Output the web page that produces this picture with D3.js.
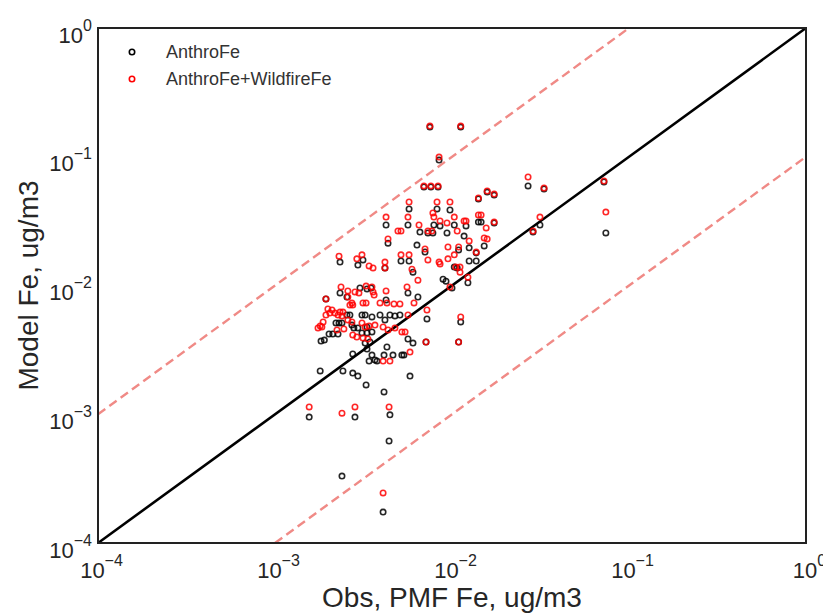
<!DOCTYPE html>
<html>
<head>
<meta charset="utf-8">
<script src="https://cdn.jsdelivr.net/npm/d3@7"></script>
<style>
  body { margin: 0; background: #fff; }
  text { font-family: "Liberation Sans", Arial, sans-serif; }
</style>
</head>
<body>
<script>
// AnthroFe (black) - obs PMF Fe vs model Fe, ug/m3
var anthroObs = [
  0.0075, 0.0112, 0.00845, 0.00694, 0.0076, 0.00834, 0.0269, 0.0331, 0.0158, 0.0173,
  0.0722, 0.0141, 0.00572, 0.00823, 0.00974, 0.00424, 0.00564, 0.0079, 0.00856, 0.0103,
  0.012, 0.0141, 0.0146, 0.0173, 0.0314, 0.0287, 0.074, 0.00937, 0.0078, 0.00659,
  0.00731, 0.0117, 0.0152, 0.00435, 0.00634, 0.00704, 0.0109, 0.0125, 0.0137, 0.0125,
  0.0137, 0.0103, 0.0123, 0.0089, 0.00925, 0.01, 0.0112, 0.00722, 0.00713, 0.0109,
  0.00233, 0.00314, 0.00294, 0.00418, 0.00515, 0.00572, 0.00602, 0.00233, 0.00255, 0.00302,
  0.00331, 0.00349, 0.00194, 0.00424, 0.00564, 0.00642, 0.0107, 0.00221, 0.0023, 0.00239,
  0.00182, 0.0019, 0.00202, 0.00212, 0.00227, 0.00255, 0.00265, 0.00272, 0.00279, 0.0031,
  0.00323, 0.00353, 0.00392, 0.00418, 0.00446, 0.00476, 0.00508, 0.0031, 0.00331, 0.00353,
  0.00323, 0.00344, 0.00564, 0.00602, 0.00275, 0.00331, 0.00429, 0.00353, 0.00367, 0.0034,
  0.00377, 0.00413, 0.00464, 0.00521, 0.00535, 0.0018, 0.00242, 0.00275, 0.00294, 0.00327,
  0.00413, 0.00579, 0.00156, 0.00283, 0.00446, 0.00441, 0.00239, 0.00408, 0.00294, 0.00331
];
var anthroModel = [
  0.17, 0.17, 0.0943, 0.0582, 0.0582, 0.0582, 0.0593, 0.0562, 0.0532, 0.0504,
  0.0637, 0.047, 0.0393, 0.0393, 0.0386, 0.0295, 0.0295, 0.0295, 0.029, 0.0295,
  0.029, 0.0311, 0.0311, 0.0306, 0.0295, 0.026, 0.0256, 0.0256, 0.0256, 0.026,
  0.0256, 0.0242, 0.0203, 0.0213, 0.0206, 0.0182, 0.0189, 0.0196, 0.0179, 0.0155,
  0.0155, 0.0139, 0.0105, 0.0112, 0.0108, 0.00957, 0.00521, 0.0055, 0.00364, 0.00364,
  0.0152, 0.0158, 0.0144, 0.0137, 0.0155, 0.0155, 0.0127, 0.00875, 0.00814, 0.00957,
  0.0094, 0.00957, 0.00786, 0.00772, 0.00875, 0.00814, 0.0137, 0.00512, 0.00512, 0.00512,
  0.0037, 0.00377, 0.0042, 0.0042, 0.0042, 0.0059, 0.0059, 0.00493, 0.00468, 0.0059,
  0.0059, 0.0057, 0.0059, 0.0054, 0.0059, 0.0058, 0.0059, 0.00428, 0.00428, 0.00436,
  0.00357, 0.00364, 0.00384, 0.00357, 0.00294, 0.00321, 0.00333, 0.00288, 0.00264, 0.00259,
  0.00259, 0.00288, 0.00288, 0.00288, 0.00288, 0.00217, 0.00217, 0.00209, 0.00198, 0.00169,
  0.00149, 0.00198, 0.00095, 0.00095, 0.00099, 0.00062, 0.000331, 0.000174, 0.00468, 0.00476
];

// AnthroFe+WildfireFe (red)
var totalObs = [
  0.0075, 0.0112, 0.00845, 0.00694, 0.0076, 0.00834, 0.0269, 0.0331, 0.0158, 0.0173,
  0.0722, 0.0141, 0.00572, 0.00823, 0.00974, 0.0078, 0.0079, 0.00424, 0.00564, 0.00856,
  0.0103, 0.0117, 0.012, 0.0141, 0.0146, 0.0173, 0.0314, 0.0287, 0.074, 0.00937,
  0.00651, 0.00495, 0.00515, 0.00731, 0.0077, 0.0107, 0.0156, 0.0158, 0.00435, 0.00704,
  0.00949, 0.0109, 0.0125, 0.0152, 0.0137, 0.0023, 0.0029, 0.0031, 0.0034, 0.00358,
  0.00418, 0.00418, 0.00515, 0.00572, 0.00594, 0.00642, 0.00731, 0.00845, 0.00856, 0.00949,
  0.0103, 0.0105, 0.0111, 0.0111, 0.0123, 0.00974, 0.00722, 0.0112, 0.00713, 0.0109,
  0.00236, 0.00258, 0.00283, 0.00298, 0.00327, 0.00353, 0.00358, 0.00363, 0.00424, 0.00557,
  0.00194, 0.00314, 0.00327, 0.00392, 0.00429, 0.0047, 0.00508, 0.0061, 0.00265, 0.00275,
  0.0018, 0.00184, 0.00187, 0.00194, 0.00199, 0.0021, 0.00218, 0.00227, 0.00233, 0.00239,
  0.00245, 0.0031, 0.00323, 0.0034, 0.00367, 0.00408, 0.00435, 0.00476, 0.00564, 0.00521,
  0.00543, 0.00275, 0.0029, 0.00314, 0.00335, 0.00408, 0.00446, 0.00579, 0.00156, 0.00239,
  0.00283, 0.00441, 0.00408, 0.00175, 0.00258, 0.00272, 0.00242, 0.00258, 0.00272, 0.00224,
  0.00204
];
var totalModel = [
  0.173, 0.173, 0.0995, 0.0593, 0.0593, 0.0593, 0.0696, 0.0572, 0.0542, 0.0513,
  0.0648, 0.0478, 0.0445, 0.0445, 0.0445, 0.0366, 0.034, 0.034, 0.034, 0.0317,
  0.034, 0.0317, 0.0317, 0.0353, 0.0353, 0.0311, 0.034, 0.0265, 0.0372, 0.0306,
  0.0295, 0.0265, 0.0265, 0.0265, 0.0265, 0.0265, 0.028, 0.023, 0.023, 0.0192,
  0.0199, 0.0199, 0.0222, 0.0234, 0.0182, 0.0169, 0.0161, 0.0173, 0.0142, 0.0137,
  0.0152, 0.0137, 0.0173, 0.0173, 0.0134, 0.011, 0.0158, 0.0152, 0.0147, 0.0161,
  0.0173, 0.0139, 0.0139, 0.0127, 0.0116, 0.00974, 0.00645, 0.0057, 0.00364, 0.00364,
  0.00974, 0.00907, 0.00891, 0.00875, 0.0099, 0.00974, 0.00891, 0.00844, 0.00907, 0.00974,
  0.00786, 0.00732, 0.00732, 0.00732, 0.00732, 0.00719, 0.00719, 0.00732, 0.00706, 0.00706,
  0.00485, 0.00476, 0.00521, 0.0059, 0.00657, 0.00645, 0.00611, 0.0059, 0.00622, 0.0058,
  0.0046, 0.00512, 0.00476, 0.00485, 0.00493, 0.00476, 0.00451, 0.00468, 0.0059, 0.00436,
  0.00436, 0.00413, 0.00398, 0.00391, 0.00384, 0.00259, 0.00259, 0.00304, 0.00114, 0.00102,
  0.00114, 0.00114, 0.000245, 0.00468, 0.00814, 0.00732, 0.00622, 0.0054, 0.00521, 0.00451,
  0.00611
];

var tickValues = [1e-4, 1e-3, 1e-2, 1e-1, 1];
var tickExponents = ["\u22124", "\u22123", "\u22122", "\u22121", "0"];
var legendLabels = ["AnthroFe", "AnthroFe+WildfireFe"];

var width = 823,
    height = 614;
var plot = {left: 98, right: 806, top: 28, bottom: 543};

var svg = d3.select("body").append("svg")
    .attr("width", width)
    .attr("height", height);

var x = d3.scaleLog().domain([1e-4, 1]).range([plot.left, plot.right]);
var y = d3.scaleLog().domain([1e-4, 1]).range([plot.bottom, plot.top]);

svg.append("defs").append("clipPath")
    .attr("id", "plot-clip")
  .append("rect")
    .attr("x", plot.left)
    .attr("y", plot.top)
    .attr("width", plot.right - plot.left)
    .attr("height", plot.bottom - plot.top);

var line = d3.line()
    .x(function(d) { return x(d[0]); })
    .y(function(d) { return y(d[1]); });

var refs = svg.append("g").attr("clip-path", "url(#plot-clip)");

// 10:1 and 1:10 lines
refs.append("path")
    .attr("d", line([[1e-4, 1e-3], [0.1, 1]]))
    .attr("fill", "none")
    .attr("stroke", "#f08a86")
    .attr("stroke-width", 2.4)
    .attr("stroke-dasharray", "9,5");
refs.append("path")
    .attr("d", line([[1e-3, 1e-4], [1, 0.1]]))
    .attr("fill", "none")
    .attr("stroke", "#f08a86")
    .attr("stroke-width", 2.4)
    .attr("stroke-dasharray", "9,5");
// 1:1
refs.append("path")
    .attr("d", line([[1e-4, 1e-4], [1, 1]]))
    .attr("fill", "none")
    .attr("stroke", "#000")
    .attr("stroke-width", 2.6);

var drawSeries = function(xs, ys, color) {
  svg.append("g")
    .selectAll("circle")
      .data(xs)
    .enter().append("circle")
      .attr("cx", function(d) { return x(d); })
      .attr("cy", function(d, i) { return y(ys[i]); })
      .attr("r", 2.7)
      .attr("fill", "none")
      .attr("stroke", color)
      .attr("stroke-opacity", 0.85)
      .attr("stroke-width", 1.6);
};
drawSeries(anthroObs, anthroModel, "#000");
drawSeries(totalObs, totalModel, "#f00");

// frame
svg.append("rect")
    .attr("x", plot.left)
    .attr("y", plot.top)
    .attr("width", plot.right - plot.left)
    .attr("height", plot.bottom - plot.top)
    .attr("fill", "none")
    .attr("stroke", "#222")
    .attr("stroke-width", 2);

var powLabel = function(sel) {
  sel.each(function(d) {
    var t = d3.select(this).text(null);
    t.append("tspan").attr("font-size", 22).text("10");
    t.append("tspan").attr("font-size", 16).attr("dy", -12).text(tickExponents[tickValues.indexOf(d)]);
  });
};

var xAxis = svg.append("g")
    .attr("transform", "translate(0," + plot.bottom + ")")
    .call(d3.axisBottom(x).tickValues(tickValues).tickSize(0).tickPadding(35));
xAxis.select(".domain").remove();
xAxis.selectAll(".tick text")
    .attr("fill", "#262626")
    .attr("font-family", "Liberation Sans, Arial, sans-serif")
    .attr("dy", 0)
    .attr("dx", 3)
    .call(powLabel);

var yAxis = svg.append("g")
    .attr("transform", "translate(" + plot.left + ",0)")
    .call(d3.axisLeft(y).tickValues(tickValues).tickSize(0).tickPadding(6));
yAxis.select(".domain").remove();
yAxis.selectAll(".tick text")
    .attr("fill", "#262626")
    .attr("font-family", "Liberation Sans, Arial, sans-serif")
    .attr("dy", 14)
    .call(powLabel);

svg.append("text")
    .attr("x", (plot.left + plot.right) / 2)
    .attr("y", 607)
    .attr("text-anchor", "middle")
    .attr("font-size", 28)
    .attr("fill", "#262626")
    .text("Obs, PMF Fe, ug/m3");

svg.append("text")
    .attr("transform", "translate(38," + ((plot.top + plot.bottom) / 2) + ") rotate(-90)")
    .attr("text-anchor", "middle")
    .attr("font-size", 28)
    .attr("fill", "#262626")
    .text("Model Fe, ug/m3");

// legend
var legend = svg.append("g")
    .selectAll("g")
      .data(legendLabels)
    .enter().append("g")
      .attr("transform", function(d, i) { return "translate(132," + (52 + i * 27) + ")"; });
legend.append("circle")
    .attr("r", 2.7)
    .attr("fill", "none")
    .attr("stroke-width", 1.6)
    .attr("stroke", function(d, i) { return i === 0 ? "#000" : "#f00"; });
legend.append("text")
    .attr("x", 34)
    .attr("y", 6)
    .attr("font-size", 18)
    .attr("fill", "#333")
    .text(function(d) { return d; });
</script>
</body>
</html>
